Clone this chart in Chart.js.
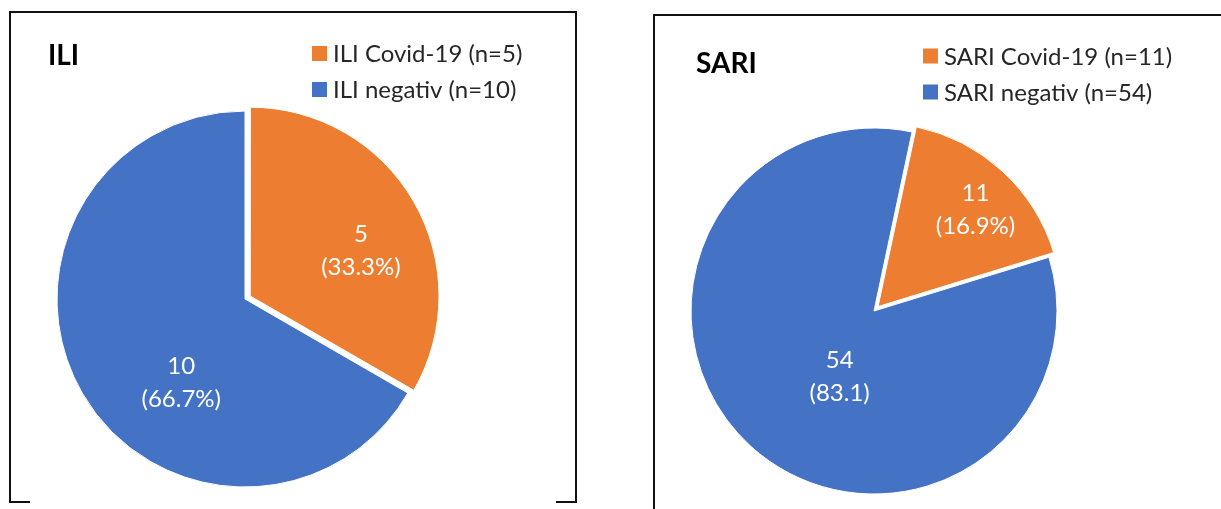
<!DOCTYPE html>
<html>
<head>
<meta charset="utf-8">
<script src="https://cdn.jsdelivr.net/npm/chart.js@4/dist/chart.umd.min.js"></script>
<style>
  body { margin: 0; background: #fff; width: 1221px; height: 509px; overflow: hidden; position: relative; }
  .frame { position: absolute; box-sizing: border-box; border: 0 solid #111; }
  canvas { position: absolute; top: 0; }
</style>
</head>
<body>
<div class="frame" style="left:9px;top:11px;width:568px;height:492px;border-width:2px 2px 0 2px"></div>
<div class="frame" style="left:9px;top:501px;width:21px;height:2px;background:#111"></div>
<div class="frame" style="left:556px;top:501px;width:21px;height:2px;background:#111"></div>
<div class="frame" style="left:653px;top:14px;width:700px;height:600px;border-width:2px 0 0 2px"></div>

<canvas id="iliChart" width="610" height="509" style="left:0"></canvas>
<canvas id="sariChart" width="611" height="509" style="left:610px"></canvas>

<script>
  // ILI panel
  const iliLabels = ['ILI Covid-19 (n=5)', 'ILI negativ (n=10)']
  const iliCounts = [5, 10]
  const iliShares = ['(33.3%)', '(66.7%)']

  // SARI panel
  const sariLabels = ['SARI Covid-19 (n=11)', 'SARI negativ (n=54)']
  const sariCounts = [11, 54]
  const sariShares = ['(16.9%)', '(83.1)']

  const sliceColors = ['#ED7D31', '#4472C4']

  // Title, legend and slice labels drawn onto the chart canvas
  const panelText = {
    id: 'panelText',
    afterDatasetsDraw(chart, args, opts) {
      const ctx = chart.ctx
      const ds = chart.data.datasets[0]
      const meta = chart.getDatasetMeta(0)
      ctx.save()

      // value labels inside the slices
      ctx.fillStyle = '#fff'
      ctx.font = '24px Lato'
      ctx.textAlign = 'center'
      ctx.textBaseline = 'alphabetic'
      meta.data.forEach((arc, i) => {
        const [deg, frac] = opts.labelSpots[i]
        const a = (deg - 90) * Math.PI / 180
        const r = arc.outerRadius * frac
        const x = arc.x + Math.cos(a) * r
        const y = arc.y + Math.sin(a) * r
        ctx.fillText(String(ds.data[i]), x, y - 8)
        ctx.fillText(opts.shares[i], x, y + 25)
      })

      // title
      ctx.textAlign = 'left'
      ctx.fillStyle = '#000'
      ctx.font = 'bold 28px Lato'
      ctx.fillText(opts.title, opts.titleX, opts.titleY)

      // legend
      ctx.font = '24px Lato'
      ctx.fillStyle = '#222'
      chart.data.labels.forEach((label, i) => {
        const y = opts.legendY + i * opts.legendGap
        ctx.fillStyle = ds.backgroundColor[i]
        ctx.fillRect(opts.legendX, y - 7.5, 15, 15)
        ctx.fillStyle = '#262626'
        ctx.fillText(label, opts.legendX + 21, y + 8.5)
      })
      ctx.restore()
    }
  }

  function makePie(id, labels, counts, shares, extra) {
    return new Chart(document.getElementById(id), {
      type: 'pie',
      data: {
        labels: labels,
        datasets: [
          {
            data: counts,
            backgroundColor: sliceColors,
            borderColor: '#fff',
            borderWidth: 1,
            offset: [24, 0],
            radius: extra.radius,
          },
        ],
      },
      options: {
        responsive: false,
        animation: false,
        rotation: extra.rotation,
        layout: { padding: extra.padding },
        plugins: {
          legend: { display: false },
          tooltip: { enabled: false },
          panelText: {
            title: extra.title,
            titleX: extra.titleX,
            titleY: extra.titleY,
            legendX: extra.legendX,
            legendY: extra.legendY,
            legendGap: 36,
            shares: shares,
            labelSpots: extra.labelSpots,
          },
        },
      },
      plugins: [panelText],
    })
  }

  makePie('iliChart', iliLabels, iliCounts, iliShares, {
    radius: 188,
    rotation: 0,
    padding: { left: 45, right: 165, top: 99, bottom: 10 },
    title: 'ILI',
    titleX: 48,
    titleY: 65,
    legendX: 312,
    legendY: 53.5,
    labelSpots: [[67, 0.67], [217.6, 0.556]],
  })

  makePie('sariChart', sariLabels, sariCounts, sariShares, {
    radius: 183,
    rotation: 12,
    padding: { left: 75, right: 158, top: 121, bottom: 8 },
    title: 'SARI',
    titleX: 86,
    titleY: 73,
    legendX: 313,
    legendY: 56,
    labelSpots: [[44.8, 0.787], [208, 0.4]],
  })
</script>
</body>
</html>
